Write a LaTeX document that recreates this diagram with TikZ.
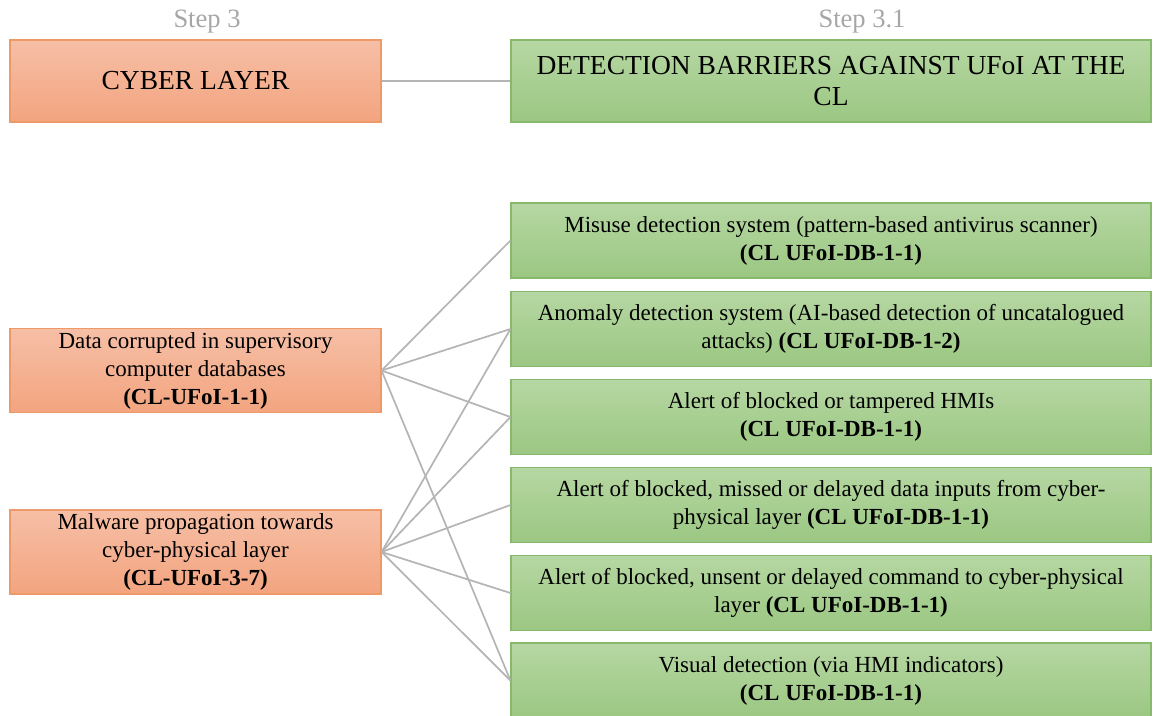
\documentclass[tikz,border=0pt]{standalone}
\usepackage{fontspec}
\setmainfont{Liberation Serif}
\definecolor{ortop}{HTML}{F6BFA6}
\definecolor{orbot}{HTML}{F3A47F}
\definecolor{ordraw}{HTML}{EE9A68}
\definecolor{grtop}{HTML}{B6D7A3}
\definecolor{grbot}{HTML}{9BC782}
\definecolor{grdraw}{HTML}{86B96B}
\definecolor{linkgray}{HTML}{B4B4B4}
\definecolor{stepgray}{HTML}{A6A6A6}
\tikzset{
  basebox/.style={rectangle, align=center, inner sep=0pt, line width=1.1pt,
    font=\fontsize{23}{28}\selectfont, text=black},
  orangebox/.style={basebox, draw=ordraw, top color=ortop, bottom color=orbot,
    minimum width=371pt},
  greenbox/.style={basebox, draw=grdraw, top color=grtop, bottom color=grbot,
    minimum width=640pt, minimum height=75pt},
  headtext/.style={font=\fontsize{27.5}{31}\selectfont},
  steplabel/.style={text=stepgray, font=\fontsize{26.5}{30}\selectfont, inner sep=0pt},
  link/.style={draw=linkgray, line width=1.7pt}
}
\begin{document}
\begin{tikzpicture}[x=1pt, y=-1pt]
\useasboundingbox (0,0) rectangle (1153,715);

% column headings
\node[steplabel] (s3) at (207,22) {Step 3};
\node[steplabel] (s31) at (862,22) {Step 3.1};

% top row
\node[orangebox, headtext, minimum height=82pt] (cyber) at (195.5,81) {CYBER LAYER};
\node[greenbox, headtext, minimum height=82pt] (barriers) at (831,81)
  {DETECTION BARRIERS AGAINST UFoI AT THE\\CL};

% undesired facts of interest
\node[orangebox, minimum height=84pt] (ufoi1) at (195.5,370.5)
  {Data corrupted in supervisory\\computer databases\\\textbf{(CL-UFoI-1-1)}};
\node[orangebox, minimum height=84pt] (ufoi3) at (195.5,552)
  {Malware propagation towards\\cyber-physical layer\\\textbf{(CL-UFoI-3-7)}};

% detection barriers
\node[greenbox] (db1) at (831,240.5)
  {Misuse detection system (pattern-based antivirus scanner)\\\textbf{(CL UFoI-DB-1-1)}};
\node[greenbox] (db2) at (831,329)
  {Anomaly detection system (AI-based detection of uncatalogued\\attacks) \textbf{(CL UFoI-DB-1-2)}};
\node[greenbox] (db3) at (831,417)
  {Alert of blocked or tampered HMIs\\\textbf{(CL UFoI-DB-1-1)}};
\node[greenbox] (db4) at (831,505)
  {Alert of blocked, missed or delayed data inputs from cyber-\\physical layer \textbf{(CL UFoI-DB-1-1)}};
\node[greenbox] (db5) at (831,593)
  {Alert of blocked, unsent or delayed command to cyber-physical\\layer \textbf{(CL UFoI-DB-1-1)}};
\node[greenbox] (db6) at (831,680.5)
  {Visual detection (via HMI indicators)\\\textbf{(CL UFoI-DB-1-1)}};

% connectors
\draw[link] (cyber.east) -- (cyber.east -| barriers.west);
\foreach \t in {db1,db2,db3,db6}
  \draw[link] (ufoi1.east) -- (\t.west);
\foreach \t in {db2,db3,db4,db5,db6}
  \draw[link] (ufoi3.east) -- (\t.west);
\end{tikzpicture}
\end{document}
